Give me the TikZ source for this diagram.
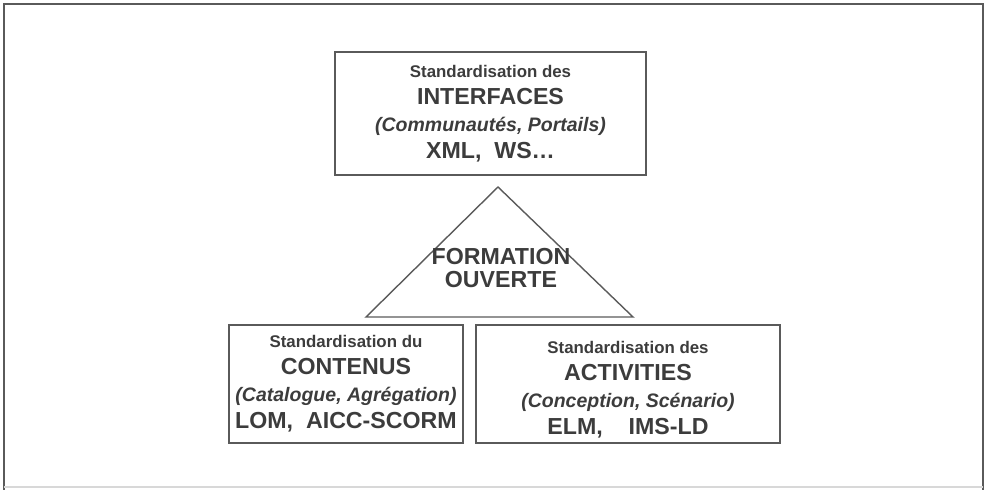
\documentclass[tikz,border=0pt]{standalone}
\usepackage{fontspec}
\setmainfont{Liberation Sans}
\definecolor{ink}{HTML}{3C3C3C}
\definecolor{edge}{HTML}{5A5A5A}
\definecolor{faint}{HTML}{D8D8D8}
\newcommand{\smallline}[1]{{\fontsize{9.6}{15.3}\selectfont #1}}
\newcommand{\bigline}[1]{{\fontsize{13.2}{15.3}\selectfont #1}}
\newcommand{\itline}[1]{{\fontsize{11.1}{15.3}\selectfont\itshape #1}}

\begin{document}
\begin{tikzpicture}[x=0.02cm, y=-0.02cm]
    \tikzset{%
      box/.style={draw=edge, line width=0.8pt, inner sep=0pt, align=center,
        text=ink, font=\bfseries\fontsize{13.2}{15.3}\selectfont},
      tri/.style={draw=edge, line width=0.8pt, line join=miter},
      frame/.style={draw=edge, line width=1pt},
    }
    \useasboundingbox (0,0) rectangle (987,490);
    % outer frame
    \draw [frame] (4,490) -- (4,4) -- (983,4) -- (983,490);
    \draw [faint, line width=0.6pt] (4,487) -- (983,487);

    % the three standards
    \node[box, minimum width=6.22cm, minimum height=2.46cm] (I) at (490.5,113.5)
      {\smallline{Standardisation des}\\ \bigline{INTERFACES}\\
       \itline{(Communautés, Portails)}\\ \bigline{XML,\ \ WS\ldots}};
    \node[box, minimum width=4.68cm, minimum height=2.36cm] (C) at (346,384)
      {\smallline{Standardisation du}\\ \bigline{CONTENUS}\\
       \itline{(Catalogue, Agrégation)}\\ \bigline{LOM,\ \ AICC-SCORM}};
    \node[box, minimum width=6.08cm, minimum height=2.36cm] (A) at (628,384)
      {\smallline{\rule{0pt}{13.6pt}Standardisation des}\\ \bigline{ACTIVITIES}\\
       \itline{(Conception, Scénario)}\\ \bigline{ELM,\ \ \ \ IMS-LD}};

    % triangle in the middle
    \coordinate (T0) at (498,187);
    \coordinate (T1) at (366,317);
    \coordinate (T2) at (633,317);
    \draw [tri] (T0) -- (T1) -- (T2) -- cycle;
    \node[text=ink, align=center, font=\bfseries\fontsize{13.2}{13.2}\selectfont] (F) at (501,268)
      {FORMATION\\ OUVERTE};
\end{tikzpicture}
\end{document}
